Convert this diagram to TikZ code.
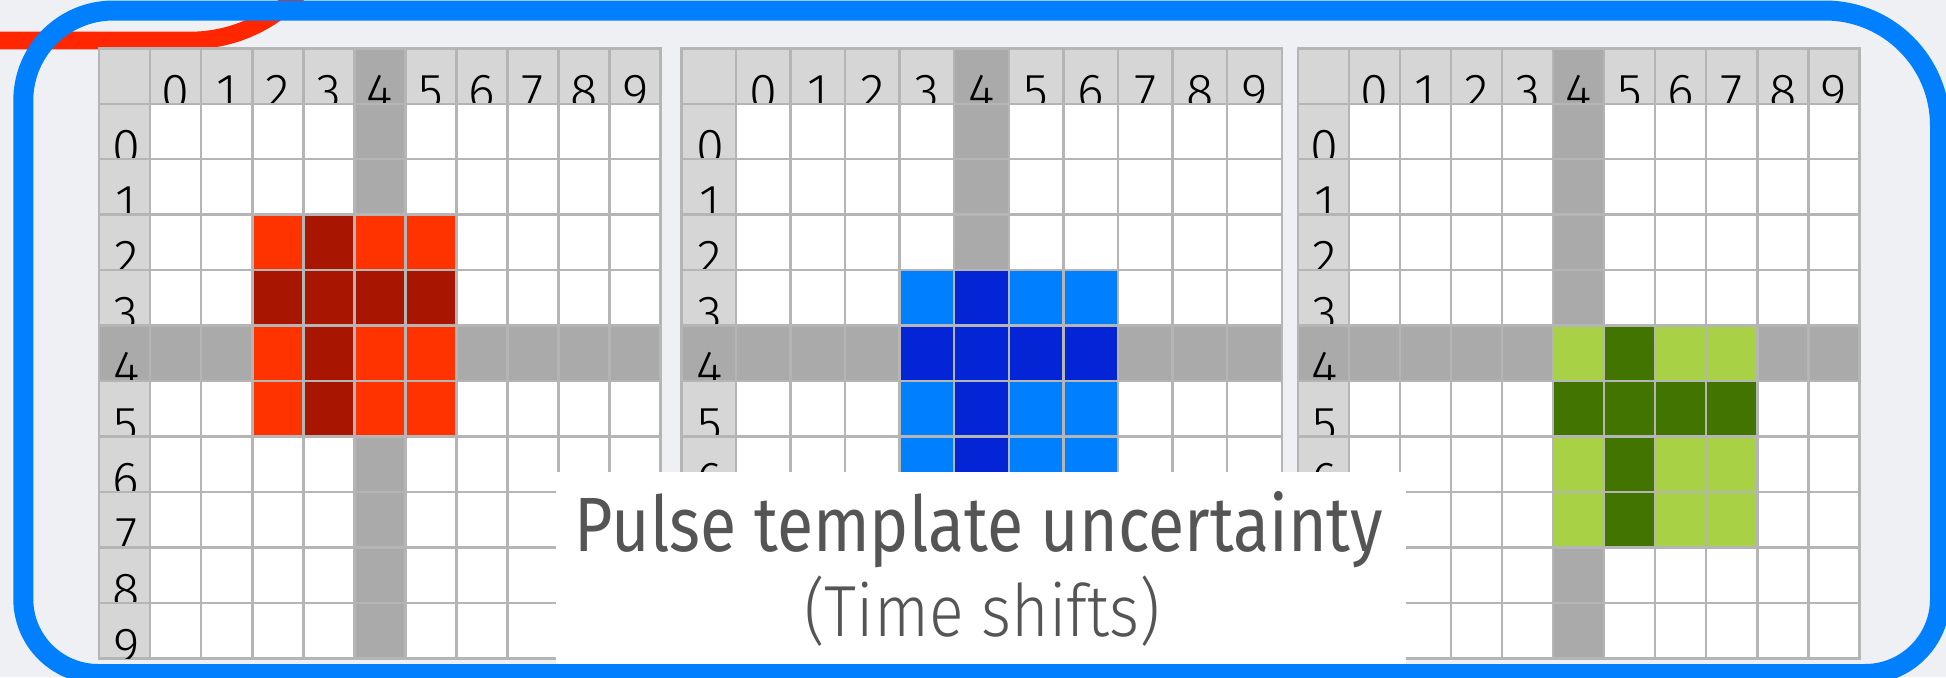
\documentclass[tikz,border=0pt]{standalone}
\usepackage{fontspec}
\newfontfamily\thinfont{Fira Sans Light}
\newfontfamily\capfont{Fira Sans}
\usepackage{tikz}
\definecolor{backdrop}{HTML}{EEF0F3}
\definecolor{rimblue}{HTML}{0080FF}
\definecolor{rimred}{HTML}{FF2600}
\definecolor{gridline}{HTML}{B5B5B5}
\definecolor{headgray}{HTML}{D6D6D6}
\definecolor{markgray}{HTML}{AAAAAA}
\definecolor{redlight}{HTML}{FF3300}
\definecolor{reddark}{HTML}{A81500}
\definecolor{bluelight}{HTML}{0080FF}
\definecolor{bluedark}{HTML}{0325D6}
\definecolor{greenlight}{HTML}{A8D145}
\definecolor{greendark}{HTML}{427500}
\definecolor{captext}{HTML}{555555}
\tikzset{
    cellbox/.style={
        fill=#1, draw=gridline, line width=0.25mm
    },
    digitlab/.style={
        font=\thinfont\fontsize{14.4}{14.4}\selectfont, text=black,
        anchor=base, inner sep=0pt
    },
    rimline/.style={
        draw=#1, line width=2mm
    },
    capbox/.style={
        rectangle, fill=white, inner sep=0pt,
        minimum width=85.03mm, minimum height=20.53mm
    },
    captitle/.style={
        font=\capfont\fontsize{21.9}{21.9}\selectfont, text=captext,
        anchor=base, inner sep=0pt
    },
    capsub/.style={
        font=\thinfont\fontsize{20.6}{20.6}\selectfont, text=captext,
        anchor=base, inner sep=0pt
    },
}
% #1 left edge, #2 cell width, #3 first shifted index, #4 light, #5 dark, #6 name
\newcommand{\pulsegrid}[6]{%
    \foreach \r in {-1,...,9}{
        \foreach \c in {-1,...,9}{
            \pgfmathsetmacro{\cl}{#1+(\c+1)*#2}
            \pgfmathsetmacro{\ct}{48.3+(\r+1)*55.45}
            \def\cellcol{white}
            \ifnum\r=4 \def\cellcol{markgray}\fi
            \ifnum\c=4 \def\cellcol{markgray}\fi
            \ifnum\r<0 \def\cellcol{headgray}\ifnum\c=4 \def\cellcol{markgray}\fi\fi
            \ifnum\c<0 \def\cellcol{headgray}\ifnum\r=4 \def\cellcol{markgray}\fi\fi
            \ifnum\r<#3 \else\ifnum\r>\numexpr#3+3\relax\else
            \ifnum\c<#3 \else\ifnum\c>\numexpr#3+3\relax\else
                \def\cellcol{#4}
                \ifnum\r=\numexpr#3+1\relax \def\cellcol{#5}\fi
                \ifnum\c=\numexpr#3+1\relax \def\cellcol{#5}\fi
            \fi\fi\fi\fi
            \path[cellbox=\cellcol] (\cl,-\ct) rectangle ++(#2,-55.45);
            \ifnum\r<0 \ifnum\c<0 \else
                \begin{scope}
                    \clip (\cl,-\ct) rectangle ++(#2,-55.45);
                    \node[digitlab] (#6-h\c) at (\cl+#2/2,-\ct-61) {\c};
                \end{scope}
            \fi\fi
            \ifnum\c<0 \ifnum\r<0 \else
                \begin{scope}
                    \clip (\cl,-\ct) rectangle ++(#2,-55.45);
                    \node[digitlab] (#6-v\r) at (\cl+#2/2+1.5,-\ct-61) {\r};
                \end{scope}
            \fi\fi
        }
    }
}
\begin{document}
\begin{tikzpicture}[x=0.1mm, y=0.1mm]

    % ── Canvas ──
    \path[use as bounding box] (0,0) rectangle (1946,-677);
    \clip (0,0) rectangle (1946,-677);
    \fill[backdrop] (0,0) rectangle (1946,-677);

    % ── Red rim (behind) ──
    \draw[rimline=rimred, line width=1.76mm] (-20,-40.5) -- (190,-40.5) arc[start angle=-90, end angle=-38, radius=148];

    % ── Grids ──
    \pulsegrid{99.1}{51.05}{2}{redlight}{reddark}{g1}
    \pulsegrid{681.25}{54.59}{3}{bluelight}{bluedark}{g2}
    \pulsegrid{1297.8}{51.05}{4}{greenlight}{greendark}{g3}

    % ── Caption ──
    \node[capbox] (capbox) at (980.8,-574.35) {};
    \node[captitle] (captop) at (979,-551.7) {\scalebox{0.86}[1]{Pulse template uncertainty}};
    \node[capsub] (capbot) at (982,-636.7) {\scalebox{0.89}[1]{(Time shifts)}};

    % ── Blue rim ──
    \draw[rimline=rimblue] (23.3,-100.5) arc[start angle=180, end angle=90, radius=90]
        -- (1825,-10.5) arc[start angle=90, end angle=0, radius=115]
        -- (1940,-599) arc[start angle=0, end angle=-90, radius=75]
        -- (98.3,-674) arc[start angle=-90, end angle=-180, radius=75] -- cycle;

\end{tikzpicture}
\end{document}
